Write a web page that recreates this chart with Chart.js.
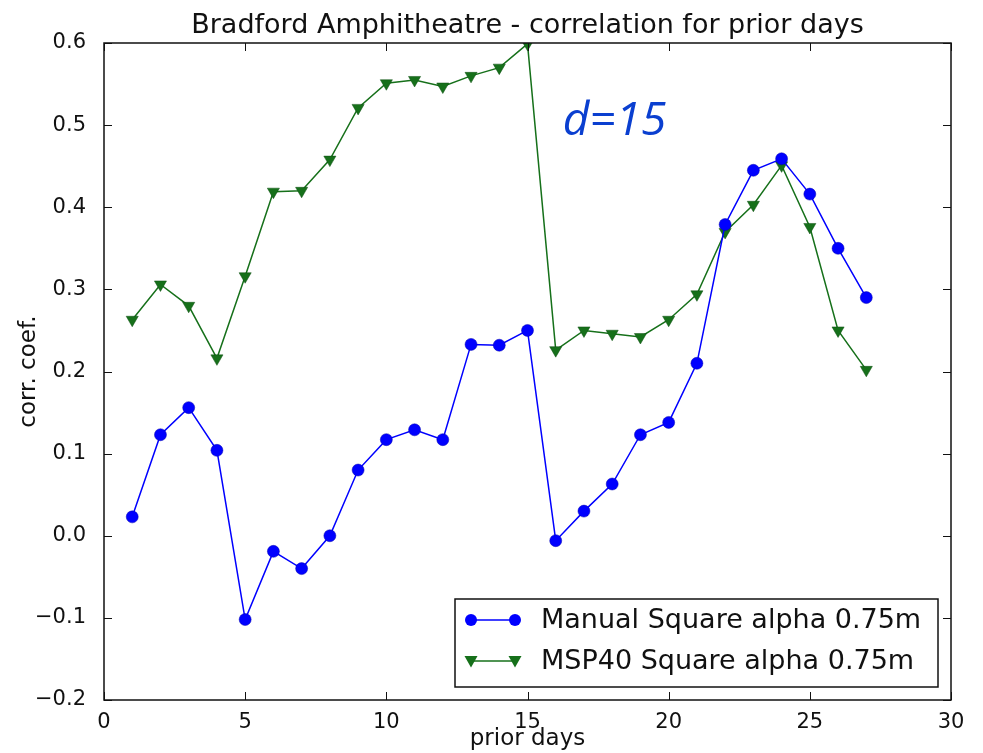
<!DOCTYPE html>
<html>
<head>
<meta charset="utf-8">
<title>Bradford Amphitheatre - correlation for prior days</title>
<script src="https://cdn.jsdelivr.net/npm/chart.js@4.4.1/dist/chart.umd.min.js"></script>
<style>
  html, body { margin: 0; padding: 0; background: #fff; }
  #wrap { width: 983px; height: 753px; }
</style>
</head>
<body>
<div id="wrap"><canvas id="chart" width="983" height="753"></canvas></div>
<script>
const priorDays = [1, 2, 3, 4, 5, 6, 7, 8, 9, 10, 11, 12, 13, 14, 15, 16, 17, 18, 19, 20, 21, 22, 23, 24, 25, 26, 27];

const manualSquare = [0.023, 0.123, 0.156, 0.104, -0.102, -0.019, -0.040, 0.000, 0.080, 0.117, 0.129, 0.117, 0.233, 0.232, 0.250,
  -0.006, 0.030, 0.063, 0.123, 0.138, 0.210, 0.379, 0.445, 0.459, 0.416, 0.350, 0.290];

const msp40Square = [0.263, 0.306, 0.280, 0.216, 0.316, 0.419, 0.420, 0.458, 0.521, 0.551, 0.555, 0.547, 0.560, 0.570, 0.599,
  0.226, 0.250, 0.246, 0.242, 0.263, 0.294, 0.370, 0.403, 0.451, 0.376, 0.250, 0.202];

const seriesLabels = ['Manual Square alpha 0.75m', 'MSP40 Square alpha 0.75m'];
const xTicks = [0, 5, 10, 15, 20, 25, 30];
const yTicks = [-0.2, -0.1, 0.0, 0.1, 0.2, 0.3, 0.4, 0.5, 0.6];

const BLUE = '#0000ff';
const GREEN = '#16701a';
const FONT = "'DejaVu Sans', sans-serif";

function fmtY(v) {
  const s = Math.abs(v).toFixed(1);
  return v < -1e-9 ? '\u2212' + s : s;
}

// frame, inward ticks on all sides, title, note and legend
const mplLook = {
  id: 'mplLook',
  afterDatasetsDraw(chart) {
    const { ctx, chartArea: a, scales } = chart;
    const x = scales.x, y = scales.y;
    ctx.save();
    ctx.strokeStyle = '#111';
    ctx.lineWidth = 1.5;
    ctx.strokeRect(a.left, a.top, a.right - a.left, a.bottom - a.top);

    ctx.lineWidth = 1;
    ctx.beginPath();
    xTicks.forEach(t => {
      const px = Math.round(x.getPixelForValue(t)) + 0.5;
      ctx.moveTo(px, a.bottom); ctx.lineTo(px, a.bottom - 8);
      ctx.moveTo(px, a.top); ctx.lineTo(px, a.top + 8);
    });
    yTicks.forEach(t => {
      const py = Math.round(y.getPixelForValue(t)) + 0.5;
      ctx.moveTo(a.left, py); ctx.lineTo(a.left + 8, py);
      ctx.moveTo(a.right, py); ctx.lineTo(a.right - 8, py);
    });
    ctx.stroke();

    // title
    ctx.fillStyle = '#111';
    ctx.font = '27px ' + FONT;
    ctx.textAlign = 'center';
    ctx.textBaseline = 'alphabetic';
    ctx.fillText('Bradford Amphitheatre - correlation for prior days', (a.left + a.right) / 2, 33);

    // annotation
    ctx.fillStyle = '#0a3fd0';
    ctx.font = "italic 46px 'Open Sans', 'Liberation Sans', sans-serif";
    ctx.textAlign = 'left';
    ctx.fillText('d=15', x.getPixelForValue(16.25), y.getPixelForValue(0.488));

    // legend
    const lx = 455, ly = 599, lw = 483, lh = 88;
    ctx.fillStyle = '#fff';
    ctx.fillRect(lx, ly, lw, lh);
    ctx.strokeStyle = '#111';
    ctx.lineWidth = 1.5;
    ctx.strokeRect(lx, ly, lw, lh);
    const rows = [
      { label: seriesLabels[0], color: BLUE, cy: 620, marker: 'circle' },
      { label: seriesLabels[1], color: GREEN, cy: 661, marker: 'tri' }
    ];
    rows.forEach(r => {
      ctx.strokeStyle = r.color;
      ctx.lineWidth = 1.5;
      ctx.beginPath();
      ctx.moveTo(471, r.cy); ctx.lineTo(515, r.cy);
      ctx.stroke();
      [471, 515].forEach(mx => {
        ctx.fillStyle = r.color;
        ctx.beginPath();
        if (r.marker === 'circle') {
          ctx.arc(mx, r.cy, 6, 0, Math.PI * 2);
        } else {
          ctx.moveTo(mx - 6.5, r.cy - 5);
          ctx.lineTo(mx + 6.5, r.cy - 5);
          ctx.lineTo(mx, r.cy + 6.5);
          ctx.closePath();
        }
        ctx.fill();
      });
      ctx.fillStyle = '#111';
      ctx.font = '27px ' + FONT;
      ctx.textAlign = 'left';
      ctx.textBaseline = 'middle';
      ctx.fillText(r.label, 541, r.cy + 1);
    });
    ctx.restore();
  }
};

const ctx = document.getElementById('chart').getContext('2d');
const chart = new Chart(ctx, {
  type: 'line',
  data: {
    datasets: [
      {
        label: seriesLabels[0],
        data: priorDays.map((d, i) => ({ x: d, y: manualSquare[i] })),
        borderColor: BLUE,
        backgroundColor: BLUE,
        borderWidth: 1.5,
        pointStyle: 'circle',
        pointRadius: 6,
        pointBorderColor: '#0000b0',
        pointBorderWidth: 0.5,
        tension: 0
      },
      {
        label: seriesLabels[1],
        data: priorDays.map((d, i) => ({ x: d, y: msp40Square[i] })),
        borderColor: GREEN,
        backgroundColor: GREEN,
        borderWidth: 1.5,
        pointStyle: 'triangle',
        rotation: 180,
        pointRadius: 7,
        pointBorderColor: '#0d4f10',
        pointBorderWidth: 0.5,
        tension: 0
      }
    ]
  },
  options: {
    responsive: false,
    animation: false,
    layout: { padding: { top: 43, right: 32, left: 0, bottom: 0 } },
    plugins: {
      legend: { display: false },
      tooltip: { enabled: false },
      title: { display: false }
    },
    scales: {
      x: {
        type: 'linear',
        min: 0,
        max: 30,
        afterFit: s => { s.height = 53; },
        afterBuildTicks: s => { s.ticks = xTicks.map(v => ({ value: v })); },
        grid: { display: false },
        border: { display: false },
        ticks: { color: '#111', font: { family: FONT, size: 21 }, padding: 2, maxRotation: 0 },
        title: { display: true, text: 'prior days', color: '#111', font: { family: FONT, size: 23 }, padding: { top: 0, bottom: 0 } }
      },
      y: {
        min: -0.2,
        max: 0.6,
        afterFit: s => { s.width = 104; },
        afterBuildTicks: s => { s.ticks = yTicks.map(v => ({ value: v })); },
        grid: { display: false },
        border: { display: false },
        ticks: { color: '#111', font: { family: FONT, size: 21 }, padding: 10, callback: v => fmtY(v) },
        title: { display: true, text: 'corr. coef.', color: '#111', font: { family: FONT, size: 23 }, padding: { top: 15, bottom: 0 } }
      }
    }
  },
  plugins: [mplLook]
});
</script>
</body>
</html>
